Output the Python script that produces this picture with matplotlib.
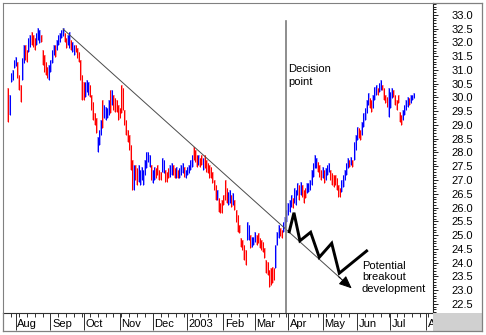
import numpy as np
import pandas as pd
import matplotlib
matplotlib.use("Agg")
import matplotlib.pyplot as plt
from matplotlib.patches import Rectangle
from matplotlib.lines import Line2D
from matplotlib.ticker import FixedLocator, MultipleLocator
import matplotlib.transforms as mtrans

plt.rcParams['font.family'] = ['Liberation Sans', 'DejaVu Sans']

# ---------------- data (daily bars, Jul 25 2002 - Jul 22 2003) ----------------
start_date = "2002-07-25"
highs = [
    30.35, 30.09, 30.89, 31.00, 31.36, 31.47, 31.29, 30.82, 30.45, 31.44,
    31.91, 31.91, 31.73, 32.16, 32.27, 32.38, 32.27, 32.16, 32.35, 32.53,
    32.45, 32.27, 31.73, 31.55, 31.29, 31.11, 31.18, 31.36, 31.73, 31.91,
    31.91, 32.09, 32.27, 32.35, 32.45, 32.53, 32.35, 32.16, 32.27, 32.38,
    32.09, 32.02, 31.91, 31.91, 31.80, 31.65, 31.36, 30.82, 30.56, 30.56,
    30.64, 30.56, 30.45, 30.09, 29.84, 29.44, 29.25, 28.56, 28.82, 29.18,
    29.91, 29.73, 29.65, 29.62, 29.91, 30.27, 30.27, 30.09, 29.98, 29.91,
    29.73, 29.62, 30.45, 30.35, 29.55, 29.18, 28.82, 28.64, 28.27, 27.73,
    27.55, 27.55, 27.44, 27.55, 27.36, 27.47, 27.36, 27.73, 28.02, 28.02,
    27.91, 27.55, 27.36, 27.47, 27.44, 27.55, 27.36, 27.29, 27.80, 27.73,
    27.36, 27.29, 27.44, 27.55, 27.62, 27.55, 27.44, 27.47, 27.36, 27.44,
    27.55, 27.62, 27.47, 27.36, 27.47, 27.55, 27.73, 27.91, 28.20, 28.09,
    27.91, 27.91, 27.80, 27.91, 27.80, 27.91, 27.73, 27.62, 27.55, 27.47,
    27.29, 27.00, 26.82, 26.64, 26.35, 26.16, 26.27, 26.45, 27.00, 26.71,
    26.56, 26.64, 26.45, 26.53, 26.27, 25.91, 25.73, 25.36, 24.89, 24.82,
    24.64, 24.45, 25.47, 25.36, 25.00, 24.93, 24.93, 25.11, 25.00, 25.07,
    24.89, 24.82, 24.75, 24.53, 24.09, 24.02, 23.73, 23.80, 23.84, 23.80,
    24.64, 25.11, 25.36, 25.25, 25.18, 25.47, 25.65, 25.91, 26.16, 26.27,
    26.45, 26.35, 26.71, 26.64, 26.89, 26.82, 26.93, 26.82, 26.64, 26.71,
    26.89, 26.89, 27.00, 27.36, 27.62, 27.91, 27.80, 27.65, 27.55, 27.36,
    27.47, 27.36, 27.44, 27.55, 27.62, 27.36, 27.25, 27.18, 27.18, 27.07,
    26.82, 26.71, 27.00, 27.18, 27.36, 27.62, 27.80, 27.73, 27.84, 27.73,
    28.38, 28.64, 28.93, 28.89, 28.82, 29.11, 29.44, 29.62, 29.91, 30.16,
    29.98, 29.91, 30.09, 30.38, 30.45, 30.35, 30.53, 30.64, 30.45, 30.35,
    30.09, 30.02, 30.35, 30.20, 30.35, 30.27, 30.09, 29.91, 30.09, 29.47,
    29.36, 29.55, 29.73, 29.91, 30.02, 29.98, 30.09, 30.09, 30.16,
]
lows = [
    29.11, 29.36, 30.56, 30.64, 31.07, 31.15, 30.71, 30.27, 29.84, 30.64,
    31.25, 31.36, 31.29, 31.65, 31.84, 31.91, 31.84, 31.73, 31.91, 32.09,
    31.98, 32.02, 31.18, 30.93, 30.82, 30.71, 30.64, 30.93, 31.25, 31.55,
    31.47, 31.73, 31.91, 32.02, 32.16, 32.24, 32.02, 31.80, 31.91, 31.80,
    31.73, 31.65, 31.55, 31.65, 31.44, 31.29, 30.64, 29.91, 29.91, 30.02,
    30.20, 30.09, 30.02, 29.55, 29.18, 29.00, 28.71, 28.02, 28.27, 28.64,
    28.89, 29.25, 29.18, 29.25, 29.36, 29.44, 29.73, 29.55, 29.47, 29.47,
    29.18, 29.25, 29.44, 29.55, 29.00, 28.64, 28.38, 28.09, 27.36, 26.64,
    26.64, 27.00, 26.82, 26.93, 26.82, 27.00, 26.82, 27.18, 27.44, 27.65,
    27.47, 27.00, 26.89, 27.00, 27.07, 27.18, 27.00, 27.00, 27.29, 27.25,
    26.93, 26.93, 27.07, 27.11, 27.18, 27.18, 27.07, 27.07, 27.07, 27.07,
    27.18, 27.25, 27.11, 27.07, 27.18, 27.25, 27.36, 27.47, 27.73, 27.65,
    27.47, 27.55, 27.47, 27.55, 27.36, 27.44, 27.29, 27.25, 27.07, 27.07,
    26.89, 26.64, 26.27, 26.27, 25.84, 25.80, 25.80, 26.09, 26.27, 26.16,
    26.09, 26.16, 26.02, 26.09, 25.91, 25.47, 25.11, 25.07, 24.56, 24.45,
    24.09, 23.91, 24.82, 24.82, 24.53, 24.56, 24.64, 24.75, 24.64, 24.71,
    24.53, 24.45, 24.38, 24.16, 23.62, 23.55, 23.11, 23.18, 23.25, 23.36,
    23.80, 24.64, 24.89, 24.96, 24.89, 25.11, 25.25, 25.47, 25.73, 25.84,
    26.02, 25.98, 26.16, 26.09, 26.45, 26.27, 26.45, 26.38, 26.16, 26.35,
    26.53, 26.56, 26.64, 26.82, 27.11, 27.44, 27.44, 27.29, 27.11, 27.00,
    27.07, 26.89, 27.00, 27.18, 27.29, 27.00, 26.82, 26.75, 26.82, 26.64,
    26.38, 26.38, 26.56, 26.75, 27.00, 27.18, 27.44, 27.47, 27.55, 27.47,
    27.73, 28.09, 28.45, 28.53, 28.45, 28.64, 28.93, 29.18, 29.44, 29.73,
    29.62, 29.47, 29.62, 29.91, 30.09, 30.09, 30.20, 30.27, 30.27, 29.91,
    29.80, 29.65, 29.29, 29.62, 29.98, 30.02, 29.73, 29.55, 29.80, 29.11,
    29.00, 29.18, 29.36, 29.55, 29.65, 29.73, 29.80, 29.91, 29.98,
]
# r = down day (red), b = up day (blue)
directions = (
    "rbbbbbrrrb" "brrbbrrrbb" "brrrrrbbbb" "rbbbbbrrbb" "rbbrrrrrrb"
    "bbrrrrrbbb" "rbbbbrbrrr" "rrrrrrrrrr" "brrbbbbbbb" "brbbrrrrbb"
    "rrrbbrrbrb" "bbrbbbbbrr" "rbrrbrrrrr" "rrrbrrrrrr" "bbrbrrrrrr"
    "rrbbrbbbrr" "rrrrrrrrrr" "bbbrrbbbbb" "brbbbrbrrr" "bbbbbbbrrr"
    "brbbbrrrrr" "rrbbbbbrbr" "bbbrrbbbbb" "rrbbbrbbrr" "rrbbbrrrrr"
    "rbbbbrbbb"
)

month_labels = ['Aug', 'Sep', 'Oct', 'Nov', 'Dec', '2003', 'Feb', 'Mar',
                'Apr', 'May', 'Jun', 'Jul', 'Aug']
price_ticks = [22.5, 23.0, 23.5, 24.0, 24.5, 25.0, 25.5, 26.0, 26.5, 27.0, 27.5,
               28.0, 28.5, 29.0, 29.5, 30.0, 30.5, 31.0, 31.5, 32.0, 32.5, 33.0]
price_labels = ['%.1f' % v for v in price_ticks]

# trend line (start at Sep peak, arrow tip) in bar-index / price units
trend_x = [34.97, 218.5]
trend_y = [32.49, 23.06]
decision_x = 176.7
decision_top = 32.79
# hand-drawn "potential breakout" zigzag
zig_x = [178.8, 181.8, 185.6, 192.4, 197.9, 205.8, 210.6, 228.0]
zig_y = [25.12, 25.81, 24.79, 25.10, 24.19, 24.70, 23.61, 24.42]

# ---------------- figure ----------------
W, H = 486, 335
fig = plt.figure(figsize=(W / 100, H / 100), dpi=100, facecolor='white')


def fx(px):
    return px / W


def fy(py):
    return 1 - py / H


ax = fig.add_axes([fx(3), fy(313), fx(433) - fx(3), fy(3) - fy(313)])
ax.set_facecolor('white')

n = len(highs)
xs = np.arange(n)
dates = pd.bdate_range(start_date, periods=n)
ext_dates = pd.bdate_range(start_date, "2003-08-29")

dark = ['#ff0000' if d == 'r' else '#0000ff' for d in directions]
light = ['#ff9a9a' if d == 'r' else '#9a9aff' for d in directions]
ax.vlines(xs + 0.3, lows, highs, colors=light, linewidth=1.3, zorder=2)
ax.vlines(xs, lows, highs, colors=dark, linewidth=0.75, zorder=3)

# trend line with arrow head
ux = trend_x[1] - trend_x[0]
uy = trend_y[1] - trend_y[0]
f = 0.96
ax.plot([trend_x[0], trend_x[0] + f * ux], [trend_y[0], trend_y[0] + f * uy],
        color='#4a4a4a', lw=0.7, zorder=4)
ax.annotate('', xy=(trend_x[1], trend_y[1]),
            xytext=(trend_x[0] + 0.955 * ux, trend_y[0] + 0.955 * uy),
            arrowprops=dict(arrowstyle='-|>,head_length=0.65,head_width=0.28',
                            color='black', lw=0.7, mutation_scale=12,
                            shrinkA=0, shrinkB=0), zorder=5)

# decision line
ax.plot([decision_x, decision_x], [22.0, decision_top], color='#7a7a7a',
        lw=1.2, zorder=4, clip_on=True)

# zigzag
ax.plot(zig_x, zig_y, color='black', lw=2.1, solid_joinstyle='miter', zorder=5)

ax.text(178.0, 31.21, 'Decision\npoint', fontsize=8, va='top', ha='left',
        linespacing=1.3, zorder=6)
ax.text(225.0, 24.07, 'Potential\nbreakout\ndevelopment', fontsize=8,
        va='top', ha='left', linespacing=1.2, zorder=6)

ax.set_xlim(-3.18, 270.2)
ax.set_ylim(22.164, 33.436)

# y axis on the right
ax.yaxis.tick_right()
ax.set_yticks(price_ticks)
ax.set_yticklabels(price_labels)
ax.yaxis.set_minor_locator(MultipleLocator(0.1))
ax.tick_params(axis='y', which='major', length=3.6, width=0.7, color='#202020',
               pad=10, labelsize=8, direction='out')
ax.tick_params(axis='y', which='minor', length=2.0, width=0.7, color='#202020',
               direction='out')

# x axis: month separators and weekly minor ticks
month_idx = [i for i in range(1, len(ext_dates))
             if ext_dates[i].month != ext_dates[i - 1].month]
week_idx = [i for i in range(len(ext_dates)) if ext_dates[i].weekday() == 0]
ax.xaxis.set_major_locator(FixedLocator(month_idx))
ax.xaxis.set_minor_locator(FixedLocator(week_idx))
ax.tick_params(axis='x', which='major', length=12.3, width=0.7, color='#303030',
               labelbottom=False, direction='out')
ax.tick_params(axis='x', which='minor', length=2.9, width=0.7, color='#303030',
               direction='out')
trans = mtrans.blended_transform_factory(ax.transData, ax.transAxes)
off = mtrans.offset_copy(trans, fig=fig, x=1.6, y=0, units='dots')
for mi, lab in zip(month_idx, month_labels):
    ax.text(mi, -11 / 310, lab, transform=off, fontsize=8, ha='left',
            va='center', clip_on=False)

for side in ['left', 'top']:
    ax.spines[side].set_color('#808080')
    ax.spines[side].set_linewidth(0.8)
ax.spines['right'].set_color('#202020')
ax.spines['right'].set_linewidth(0.8)
ax.spines['bottom'].set_color('#303030')
ax.spines['bottom'].set_linewidth(0.8)

# outer frame + grey corner
corner = Rectangle((fx(433), fy(331)), fx(482) - fx(433), fy(313) - fy(331),
                   transform=fig.transFigure, facecolor='#d0d0d0',
                   edgecolor='none', zorder=10)
fig.add_artist(corner)
fig.add_artist(Line2D([fx(482), fx(482)], [fy(3), fy(331)], color='#808080',
                      lw=0.9, transform=fig.transFigure, zorder=11))
fig.add_artist(Line2D([fx(3), fx(482)], [fy(331), fy(331)], color='#808080',
                      lw=0.9, transform=fig.transFigure, zorder=11))
fig.add_artist(Line2D([fx(3), fx(3)], [fy(313), fy(331)], color='#808080',
                      lw=0.9, transform=fig.transFigure, zorder=11))
fig.add_artist(Line2D([fx(433), fx(482)], [fy(3), fy(3)], color='#808080',
                      lw=0.9, transform=fig.transFigure, zorder=11))

fig.savefig('out.png', dpi=100, facecolor='white')
